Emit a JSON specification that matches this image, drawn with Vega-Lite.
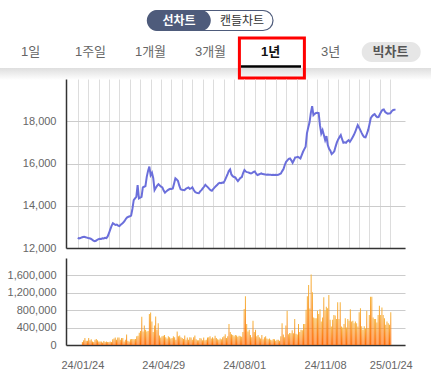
{
"$schema":"https://vega.github.io/schema/vega-lite/v6.json",
"padding":0,
"autosize":{"type":"pad"},
"background":"white",
"spacing":10,
"bounds":"flush",
"config":{"view":{"stroke":null},"axis":{"labelFont":"Liberation Sans","labelColor":"#666666","labelFontSize":11,"title":null,"ticks":false}},
"datasets":{"px":[
{"i":0,"c":12480,"v":70000},{"i":1,"c":12450,"v":110000},{"i":2,"c":12470,"v":160000},{"i":3,"c":12500,"v":100000},{"i":4,"c":12520,"v":100000},
{"i":5,"c":12530,"v":160000},{"i":6,"c":12510,"v":110000},{"i":7,"c":12490,"v":130000},{"i":8,"c":12470,"v":80000},{"i":9,"c":12460,"v":70000},
{"i":10,"c":12440,"v":120000},{"i":11,"c":12400,"v":140000},{"i":12,"c":12350,"v":110000},{"i":13,"c":12320,"v":80000},{"i":14,"c":12340,"v":80000},
{"i":15,"c":12390,"v":80000},{"i":16,"c":12420,"v":60000},{"i":17,"c":12440,"v":90000},{"i":18,"c":12430,"v":70000},{"i":19,"c":12460,"v":80000},
{"i":20,"c":12450,"v":70000},{"i":21,"c":12480,"v":70000},{"i":22,"c":12470,"v":80000},{"i":23,"c":12550,"v":70000},{"i":24,"c":12700,"v":130000},
{"i":25,"c":12880,"v":150000},{"i":26,"c":13050,"v":170000},{"i":27,"c":13170,"v":120000},{"i":28,"c":13130,"v":170000},{"i":29,"c":13090,"v":170000},
{"i":30,"c":13110,"v":120000},{"i":31,"c":13060,"v":160000},{"i":32,"c":13040,"v":160000},{"i":33,"c":13100,"v":80000},{"i":34,"c":13150,"v":120000},
{"i":35,"c":13200,"v":240000},{"i":36,"c":13280,"v":100000},{"i":37,"c":13380,"v":80000},{"i":38,"c":13450,"v":130000},{"i":39,"c":13480,"v":140000},
{"i":40,"c":13500,"v":140000},{"i":41,"c":13530,"v":130000},{"i":42,"c":13850,"v":140000},{"i":43,"c":14270,"v":200000},{"i":44,"c":14350,"v":210000},
{"i":45,"c":14420,"v":280000},{"i":46,"c":14980,"v":320000},{"i":47,"c":14350,"v":650000},{"i":48,"c":14380,"v":310000},{"i":49,"c":14420,"v":450000},
{"i":50,"c":14870,"v":350000},{"i":51,"c":14900,"v":310000},{"i":52,"c":14930,"v":320000},{"i":53,"c":15370,"v":710000},{"i":54,"c":15650,"v":750000},
{"i":55,"c":15850,"v":540000},{"i":56,"c":15450,"v":300000},{"i":57,"c":15560,"v":450000},{"i":58,"c":15300,"v":655000},{"i":59,"c":14740,"v":350000},
{"i":60,"c":14850,"v":500000},{"i":61,"c":14950,"v":220000},{"i":62,"c":15020,"v":175000},{"i":63,"c":14960,"v":200000},{"i":64,"c":14900,"v":210000},
{"i":65,"c":14870,"v":230000},{"i":66,"c":14720,"v":180000},{"i":67,"c":14620,"v":150000},{"i":68,"c":14680,"v":200000},{"i":69,"c":14730,"v":180000},
{"i":70,"c":14770,"v":150000},{"i":71,"c":14800,"v":160000},{"i":72,"c":14790,"v":200000},{"i":73,"c":14820,"v":180000},{"i":74,"c":15050,"v":120000},
{"i":75,"c":15300,"v":310000},{"i":76,"c":15250,"v":200000},{"i":77,"c":15170,"v":220000},{"i":78,"c":14950,"v":180000},{"i":79,"c":14780,"v":160000},
{"i":80,"c":14760,"v":140000},{"i":81,"c":14750,"v":220000},{"i":82,"c":14740,"v":120000},{"i":83,"c":14800,"v":170000},{"i":84,"c":14840,"v":120000},
{"i":85,"c":14870,"v":180000},{"i":86,"c":14800,"v":170000},{"i":87,"c":14820,"v":120000},{"i":88,"c":14870,"v":180000},{"i":89,"c":14760,"v":220000},
{"i":90,"c":14660,"v":130000},{"i":91,"c":14620,"v":110000},{"i":92,"c":14600,"v":110000},{"i":93,"c":14590,"v":160000},{"i":94,"c":14680,"v":150000},
{"i":95,"c":14740,"v":110000},{"i":96,"c":14820,"v":170000},{"i":97,"c":14900,"v":110000},{"i":98,"c":14990,"v":120000},{"i":99,"c":14930,"v":170000},
{"i":100,"c":14870,"v":180000},{"i":101,"c":14800,"v":200000},{"i":102,"c":14740,"v":150000},{"i":103,"c":14710,"v":180000},{"i":104,"c":14790,"v":150000},
{"i":105,"c":14860,"v":210000},{"i":106,"c":14920,"v":160000},{"i":107,"c":14980,"v":130000},{"i":108,"c":15050,"v":120000},{"i":109,"c":15090,"v":150000},
{"i":110,"c":15070,"v":130000},{"i":111,"c":15100,"v":180000},{"i":112,"c":15090,"v":200000},{"i":113,"c":15200,"v":250000},{"i":114,"c":15340,"v":160000},
{"i":115,"c":15480,"v":200000},{"i":116,"c":15650,"v":480000},{"i":117,"c":15720,"v":300000},{"i":118,"c":15480,"v":250000},{"i":119,"c":15400,"v":230000},
{"i":120,"c":15360,"v":200000},{"i":121,"c":15340,"v":230000},{"i":122,"c":15250,"v":220000},{"i":123,"c":15170,"v":190000},{"i":124,"c":15250,"v":210000},
{"i":125,"c":15320,"v":200000},{"i":126,"c":15360,"v":190000},{"i":127,"c":15550,"v":300000},{"i":128,"c":15690,"v":830000},{"i":129,"c":15620,"v":1120000},
{"i":130,"c":15590,"v":480000},{"i":131,"c":15580,"v":310000},{"i":132,"c":15550,"v":350000},{"i":133,"c":15530,"v":230000},{"i":134,"c":15560,"v":180000},
{"i":135,"c":15600,"v":555000},{"i":136,"c":15625,"v":300000},{"i":137,"c":15520,"v":350000},{"i":138,"c":15450,"v":200000},{"i":139,"c":15480,"v":230000},
{"i":140,"c":15510,"v":180000},{"i":141,"c":15530,"v":150000},{"i":142,"c":15500,"v":230000},{"i":143,"c":15490,"v":130000},{"i":144,"c":15480,"v":180000},
{"i":145,"c":15470,"v":200000},{"i":146,"c":15480,"v":150000},{"i":147,"c":15470,"v":130000},{"i":148,"c":15465,"v":150000},{"i":149,"c":15460,"v":120000},
{"i":150,"c":15470,"v":110000},{"i":151,"c":15460,"v":140000},{"i":152,"c":15470,"v":130000},{"i":153,"c":15460,"v":100000},{"i":154,"c":15465,"v":120000},
{"i":155,"c":15500,"v":120000},{"i":156,"c":15530,"v":100000},{"i":157,"c":15640,"v":200000},{"i":158,"c":15740,"v":500000},{"i":159,"c":15930,"v":240000},
{"i":160,"c":16080,"v":180000},{"i":161,"c":16150,"v":450000},{"i":162,"c":16220,"v":790000},{"i":163,"c":16240,"v":250000},{"i":164,"c":16150,"v":275000},
{"i":165,"c":16030,"v":270000},{"i":166,"c":16150,"v":340000},{"i":167,"c":16290,"v":270000},{"i":168,"c":16300,"v":595000},{"i":169,"c":16315,"v":260000},
{"i":170,"c":16280,"v":240000},{"i":171,"c":16240,"v":480000},{"i":172,"c":16400,"v":300000},{"i":173,"c":16555,"v":350000},{"i":174,"c":16680,"v":340000},
{"i":175,"c":16790,"v":480000},{"i":176,"c":17425,"v":480000},{"i":177,"c":17700,"v":810000},{"i":178,"c":17950,"v":1120000},{"i":179,"c":18400,"v":1380000},
{"i":180,"c":18715,"v":840000},{"i":181,"c":18290,"v":1620000},{"i":182,"c":18350,"v":1210000},{"i":183,"c":18395,"v":630000},{"i":184,"c":18400,"v":615000},
{"i":185,"c":18390,"v":615000},{"i":186,"c":17815,"v":785000},{"i":187,"c":17425,"v":710000},{"i":188,"c":17580,"v":820000},{"i":189,"c":17350,"v":540000},
{"i":190,"c":17105,"v":630000},{"i":191,"c":17295,"v":1100000},{"i":192,"c":16870,"v":785000},{"i":193,"c":16700,"v":880000},{"i":194,"c":16600,"v":845000},
{"i":195,"c":16445,"v":1150000},{"i":196,"c":16500,"v":580000},{"i":197,"c":16580,"v":425000},{"i":198,"c":16800,"v":580000},{"i":199,"c":17000,"v":690000},
{"i":200,"c":17140,"v":680000},{"i":201,"c":17250,"v":600000},{"i":202,"c":17345,"v":985000},{"i":203,"c":17150,"v":600000},{"i":204,"c":16980,"v":985000},
{"i":205,"c":17000,"v":425000},{"i":206,"c":16980,"v":400000},{"i":207,"c":17060,"v":480000},{"i":208,"c":17105,"v":615000},{"i":209,"c":17025,"v":400000},
{"i":210,"c":17120,"v":595000},{"i":211,"c":17230,"v":555000},{"i":212,"c":17345,"v":820000},{"i":213,"c":17480,"v":540000},{"i":214,"c":17650,"v":555000},
{"i":215,"c":17815,"v":500000},{"i":216,"c":17700,"v":540000},{"i":217,"c":17580,"v":500000},{"i":218,"c":17450,"v":425000},{"i":219,"c":17330,"v":755000},
{"i":220,"c":17250,"v":845000},{"i":221,"c":17240,"v":430000},{"i":222,"c":17400,"v":350000},{"i":223,"c":17580,"v":430000},{"i":224,"c":17850,"v":380000},
{"i":225,"c":18150,"v":785000},{"i":226,"c":18240,"v":390000},{"i":227,"c":18300,"v":690000},{"i":228,"c":18335,"v":1110000},{"i":229,"c":18250,"v":1110000},
{"i":230,"c":18190,"v":630000},{"i":231,"c":18200,"v":600000},{"i":232,"c":18330,"v":600000},{"i":233,"c":18450,"v":520000},{"i":234,"c":18540,"v":690000},
{"i":235,"c":18560,"v":905000},{"i":236,"c":18450,"v":690000},{"i":237,"c":18395,"v":860000},{"i":238,"c":18360,"v":690000},{"i":239,"c":18370,"v":615000},
{"i":240,"c":18380,"v":465000},{"i":241,"c":18470,"v":540000},{"i":242,"c":18525,"v":500000},{"i":243,"c":18540,"v":465000},{"i":244,"c":18560,"v":755000}
]},
"vconcat":[
{
 "width":339,"height":69,
 "data":{"values":[
  {"g":"toggle","k":"all"},{"g":"toggle","k":"선차트"},{"g":"toggle","k":"캔들차트"},
  {"g":"tab","k":"1일"},{"g":"tab","k":"1주일"},{"g":"tab","k":"1개월"},{"g":"tab","k":"3개월"},{"g":"tab","k":"1년"},{"g":"tab","k":"3년"},{"g":"tab","k":"빅차트"}
 ]},
 "encoding":{"y":{"field":"g","type":"nominal","scale":{"type":"point","domain":["toggle","tab"],"range":[21,52],"padding":0},"axis":null}},
 "resolve":{"scale":{"x":"independent"}},
 "layer":[
  {
   "transform":[{"filter":"datum.g=='toggle'"}],
   "encoding":{"x":{"field":"k","type":"nominal","scale":{"type":"point","domain":["선차트","all","캔들차트"],"range":[113,176],"padding":0},"axis":null}},
   "layer":[
    {"transform":[{"filter":"datum.k=='all'"}],"mark":{"type":"rect","width":125,"height":20,"cornerRadius":10,"fill":"#ffffff","stroke":"#4e5b7b","strokeWidth":1.2,"yOffset":-0.5}},
    {"transform":[{"filter":"datum.k=='선차트'"}],"mark":{"type":"rect","width":64,"height":21,"cornerRadius":10.5,"fill":"#4e5b7b","xOffset":-0.2,"yOffset":-0.5}},
    {"transform":[{"filter":"datum.k=='선차트'"}],"mark":{"type":"text","font":"Noto Sans CJK KR","fontSize":12,"fontWeight":"bold","color":"#ffffff","baseline":"middle"},"encoding":{"text":{"field":"k"}}},
    {"transform":[{"filter":"datum.k=='캔들차트'"}],"mark":{"type":"text","font":"Noto Sans CJK KR","fontSize":12,"color":"#333333","baseline":"middle"},"encoding":{"text":{"field":"k"}}}
   ]
  },
  {
   "transform":[{"filter":"datum.g=='tab'"}],
   "encoding":{"x":{"field":"k","type":"nominal","scale":{"type":"point","domain":["1일","1주일","1개월","3개월","1년","3년","빅차트"],"range":[-35.5,324.5],"padding":0},"axis":null}},
   "layer":[
    {"transform":[{"filter":"datum.k=='3개월'"}],"mark":{"type":"rect","width":431,"height":12,"xOffset":5,"yOffset":22,"fill":{"gradient":"linear","x1":0,"y1":0,"x2":0,"y2":1,"stops":[{"offset":0,"color":"#dedede"},{"offset":1,"color":"#ffffff"}]}}},
    {"transform":[{"filter":"datum.k=='빅차트'"}],"mark":{"type":"rect","width":59,"height":20,"cornerRadius":10,"fill":"#e6e6e6","xOffset":0.7}},
    {"transform":[{"filter":"datum.k=='1년'"}],"mark":{"type":"rect","width":60,"height":2.5,"fill":"#000000","xOffset":0.5,"yOffset":14.5}},
    {"transform":[{"filter":"datum.k=='1년'"}],"mark":{"type":"rect","width":65,"height":40,"fill":null,"stroke":"#ff0000","strokeWidth":3,"xOffset":1.4,"yOffset":6}},
    {"transform":[{"filter":"indexof(['1일','1주일','1개월','3개월','3년'], datum.k) >= 0"}],"mark":{"type":"text","font":"Liberation Sans, Noto Sans CJK KR","fontSize":13,"color":"#666666","baseline":"middle"},"encoding":{"text":{"field":"k"}}},
    {"transform":[{"filter":"datum.k=='1년'"}],"mark":{"type":"text","font":"Liberation Sans, Noto Sans CJK KR","fontSize":13,"fontWeight":"bold","color":"#111111","baseline":"middle"},"encoding":{"text":{"field":"k"}}},
    {"transform":[{"filter":"datum.k=='빅차트'"}],"mark":{"type":"text","font":"Noto Sans CJK KR","fontSize":13,"fontWeight":"bold","color":"#555555","baseline":"middle"},"encoding":{"text":{"field":"k"}}}
   ]
  }
 ]
},
{
 "width":339,"height":169,
 "data":{"name":"px"},
 "mark":{"type":"line","color":"#6b6fdb","strokeWidth":2,"clip":true},
 "encoding":{
  "x":{"field":"i","type":"quantitative","scale":{"domain":[-9,251.3],"nice":false,"zero":false},
   "axis":{"values":[0,8,16,24,32,40,48,56,64,72,80,88,96,104,112,120,128,136,144,152,160,168,176,184,192,200,208,216,224,232,240],"labels":false,"grid":true,"gridColor":"#dddddd","domainColor":"#333333","domainWidth":1.5}},
  "y":{"field":"c","type":"quantitative","scale":{"domain":[12000,20000],"nice":false,"zero":false},
   "axis":{"values":[12000,14000,16000,18000],"format":",d","grid":true,"gridColor":"#cccccc","domainColor":"#333333","domainWidth":1.5,"labelPadding":10}}
 }
},
{
 "width":339,"height":87,
 "data":{"name":"px"},
 "mark":{"type":"bar","orient":"vertical","width":1,"color":{"gradient":"linear","x1":0,"y1":0,"x2":0,"y2":1,"stops":[{"offset":0,"color":"#f6b43e"},{"offset":1,"color":"#ff6600"}]}},
 "encoding":{
  "x":{"field":"i","type":"quantitative","scale":{"domain":[-9,251.3],"nice":false,"zero":false},
   "axis":{"values":[0,64,128,192,244],"labelExpr":"datum.value==0?'24/01/24':datum.value==64?'24/04/29':datum.value==128?'24/08/01':datum.value==192?'24/11/08':'25/01/24'","labelFlush":false,"labelOverlap":false,"grid":false,"domainColor":"#333333","domainWidth":1.5,"labelPadding":14}},
  "y":{"field":"v","type":"quantitative","scale":{"domain":[0,2000000],"nice":false},
   "axis":{"values":[0,400000,800000,1200000,1600000],"format":",d","grid":true,"gridColor":"#cccccc","domainColor":"#333333","domainWidth":1.5,"labelPadding":10}}
 }
}
]
}
